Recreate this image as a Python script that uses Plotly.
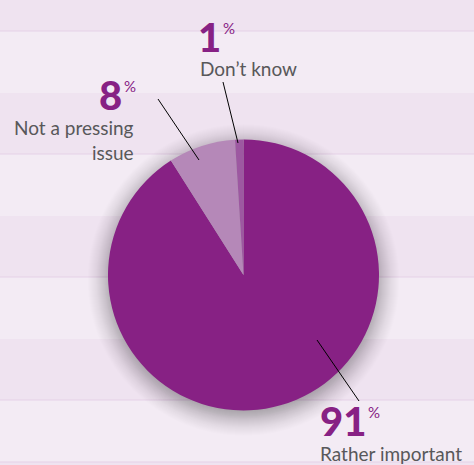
import plotly.graph_objects as go

# ---- data ----
categories = ["Rather important", "Not a pressing issue", "Don't know"]
values = [91, 8, 1]
slice_colors = ["#872184", "#b588b8", "#9d58a1"]

W, H = 474, 465
def px(x):
    return x / W
def py(y):
    return 1 - y / H

DARK = "#efe3f0"
LIGHT = "#f3ebf4"
LINE = "#e5d1e7"
PURPLE = "#872184"
GRAY = "#58585a"

shapes = []
# background stripes (darker bands)
bands = [(0, 31), (93, 154), (216, 277), (339, 400), (462, 465)]
for y0, y1 in bands:
    shapes.append(dict(type="rect", xref="paper", yref="paper", x0=0, x1=1,
                       y0=py(y1), y1=py(y0), fillcolor=DARK, line_width=0, layer="below"))
for yl in [31, 154, 277, 400, 462]:
    shapes.append(dict(type="line", xref="paper", yref="paper", x0=0, x1=1,
                       y0=py(yl), y1=py(yl), line=dict(color=LINE, width=1), layer="below"))

# soft shadow around the pie
cx, cy, r = 243.5, 280, 130
N = 26
for i in range(N):
    rr = r + N - i
    alpha = 0.006 + 0.012 * (i / N)
    shapes.append(dict(type="circle", xref="paper", yref="paper",
                       x0=px(cx - rr), x1=px(cx + rr), y0=py(cy + rr), y1=py(cy - rr),
                       fillcolor=f"rgba(0,0,0,{alpha:.4f})", line_width=0, layer="below"))

# leader lines
leaders = [((223, 82), (238, 143)), ((158, 99), (199, 160)), ((317, 340), (359, 401))]
for (x0, y0), (x1, y1) in leaders:
    shapes.append(dict(type="line", xref="paper", yref="paper", x0=px(x0), y0=py(y0),
                       x1=px(x1), y1=py(y1), line=dict(color="black", width=1), layer="above"))

fig = go.Figure(go.Pie(
    labels=categories, values=values, sort=False, direction="clockwise", rotation=0,
    marker=dict(colors=slice_colors, line=dict(width=0)),
    textinfo="none", hoverinfo="label+percent", showlegend=False,
    domain=dict(x=[px(108), px(379)], y=[py(410.5), py(139.5)]),
))

NUMF = dict(family="Lato", size=40, color=PURPLE, weight=900)
PCTF = dict(family="Lato", size=15, color=PURPLE)
TXTF = dict(family="Lato", size=19, color=GRAY)

ann = []
def a(text, x, y, xa, ya, font, align="left", pad=1):
    ann.append(dict(text=text, x=px(x), y=py(y), xref="paper", yref="paper",
                    xanchor=xa, yanchor=ya, showarrow=False, font=font, align=align,
                    borderpad=pad))

def number(v, xsplit, ymid):
    a(str(v), xsplit, ymid, "right", "middle", NUMF, pad=0)
    a("%", xsplit, ymid - 9, "left", "middle", PCTF, pad=0)

# 1% Don't know
number(values[2], 222, 37)
a(categories[2].replace("'", "’"), 198, 68, "left", "middle", TXTF)
# 8% Not a pressing issue
number(values[1], 123, 95)
a("Not a pressing<br>issue", 136, 140, "right", "middle", TXTF, align="right")
# 91% Rather important
number(values[0], 367, 421)
a(categories[0], 318, 453, "left", "middle", TXTF)

fig.update_layout(width=W, height=H, margin=dict(l=0, r=0, t=0, b=0),
                  paper_bgcolor=LIGHT, plot_bgcolor=LIGHT,
                  shapes=shapes, annotations=ann)
fig.write_html("out.html", config={"displayModeBar": False},
               post_script="document.body.style.margin='0';document.body.style.overflow='hidden';")
